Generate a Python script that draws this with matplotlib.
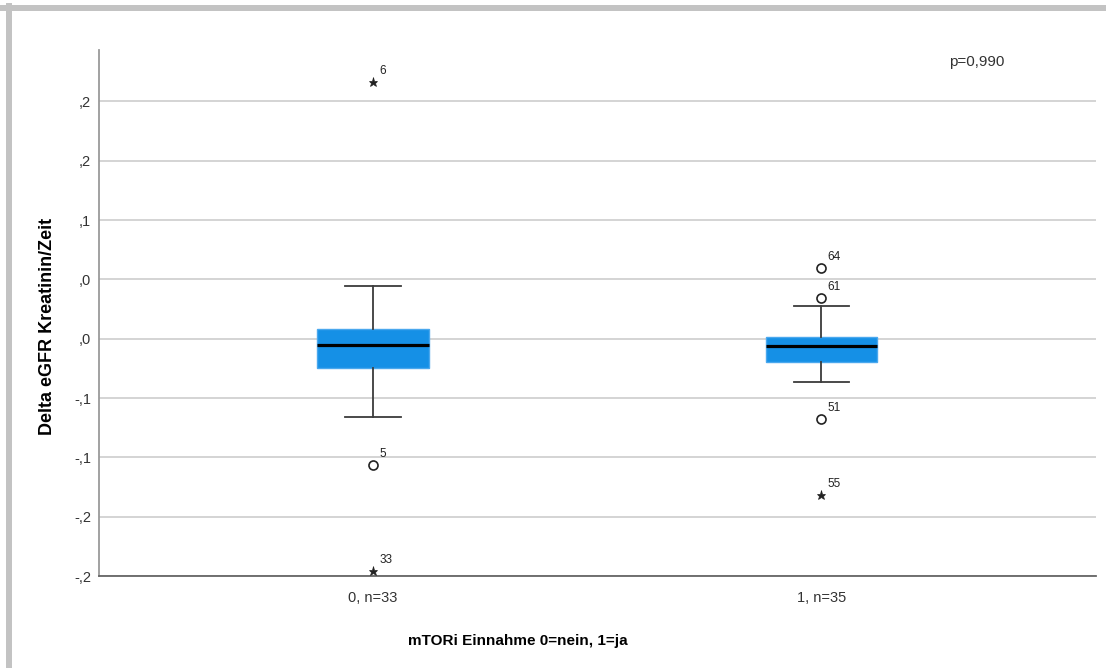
import matplotlib
matplotlib.use("Agg")
import matplotlib.pyplot as plt
from matplotlib.lines import Line2D

plt.rcParams['font.family'] = ['Liberation Sans', 'DejaVu Sans']

# ---- data ----
categories = ["0, n=33", "1, n=35"]
medians = [-0.0053, -0.0059]
q1 = [-0.0250, -0.0194]
q3 = [0.0079, 0.0012]
whisk_lo = [-0.0658, -0.0368]
whisk_hi = [0.0442, 0.0276]
# outliers: (group index, value, case label, kind) kind: 'o' mild, '*' extreme
out_group = [0, 0, 0, 1, 1, 1, 1]
out_value = [0.2162, -0.1067, -0.1959, 0.0594, 0.0341, -0.0675, -0.1318]
out_label = ["6", "5", "33", "64", "61", "51", "55"]
out_kind = ["*", "o", "*", "o", "o", "o", "*"]
ytick_values = [-0.20, -0.15, -0.10, -0.05, 0.00, 0.05, 0.10, 0.15, 0.20]
ytick_labels = ["-,2", "-,2", "-,1", "-,1", ",0", ",0", ",1", ",2", ",2"]
p_text = "p=0,990"

W, H = 1106, 668
fig = plt.figure(figsize=(W / 100, H / 100), dpi=100)
ax = fig.add_axes([98.7 / W, 1 - 576 / H, (1095.7 - 98.7) / W, (576 - 49.5) / H])

pos = list(range(len(categories)))
stats = []
for i in pos:
    stats.append(dict(med=medians[i], q1=q1[i], q3=q3[i],
                      whislo=whisk_lo[i], whishi=whisk_hi[i], fliers=[]))

ax.bxp(stats, positions=pos, widths=0.249, patch_artist=True, showfliers=False,
       boxprops=dict(facecolor="#1590e6", edgecolor="#4aa8ee", linewidth=1.0),
       medianprops=dict(color="black", linewidth=2.3),
       whiskerprops=dict(color="#3c3c3c", linewidth=1.3),
       capprops=dict(color="#3c3c3c", linewidth=1.3),
       capwidths=0.124, zorder=3)

for g, v, lab, k in zip(out_group, out_value, out_label, out_kind):
    if k == "o":
        ax.plot(g, v, marker="o", markersize=6.5, markerfacecolor="white",
                markeredgecolor="#222222", markeredgewidth=1.2, zorder=4)
    else:
        ax.plot(g, v, marker="*", markersize=6.5, color="#222222",
                markeredgewidth=0.5, zorder=4)
    ax.annotate(lab, (g, v), xytext=(4.5, 3.5), textcoords="offset points",
                ha="left", va="bottom", fontsize=8.5, color="#222222")

ax.set_xlim(-0.6116, 1.6116)
ax.set_ylim(-0.20, 0.2438)
ax.set_yticks(ytick_values)
ax.set_yticklabels(ytick_labels)
ax.set_xticks(pos)
ax.set_xticklabels(categories)
ax.tick_params(axis="both", length=0, labelsize=10.5, colors="#333333")
ax.tick_params(axis="y", pad=5.5)
ax.tick_params(axis="x", pad=11)
ax.yaxis.grid(True, color="#d4d4d4", linewidth=1.4, zorder=0)
ax.set_axisbelow(True)
for s in ["top", "right"]:
    ax.spines[s].set_visible(False)
ax.spines["left"].set_color("#9a9a9a")
ax.spines["left"].set_linewidth(1.3)
ax.spines["bottom"].set_color("#666666")
ax.spines["bottom"].set_linewidth(1.3)

fig.text(48 / W, 1 - 326.5 / H, "Delta eGFR Kreatinin/Zeit", rotation=90,
         ha="center", va="center", fontsize=13, fontweight="bold", color="black")
fig.text(518 / W, 1 - 641 / H, "mTORi Einnahme 0=nein, 1=ja",
         ha="center", va="center", fontsize=11, fontweight="bold", color="black")
fig.text(977 / W, 1 - 62 / H, p_text, ha="center", va="center",
         fontsize=11, color="#333333")

# outer frame (gray border top and left)
fig.add_artist(Line2D([0, 1], [1 - 8 / H, 1 - 8 / H], transform=fig.transFigure,
                      color="#c3c3c3", linewidth=4.3))
fig.add_artist(Line2D([9 / W, 9 / W], [0, 1 - 6 / H], transform=fig.transFigure,
                      color="#c3c3c3", linewidth=4.3))

fig.savefig("out.png", dpi=100)
